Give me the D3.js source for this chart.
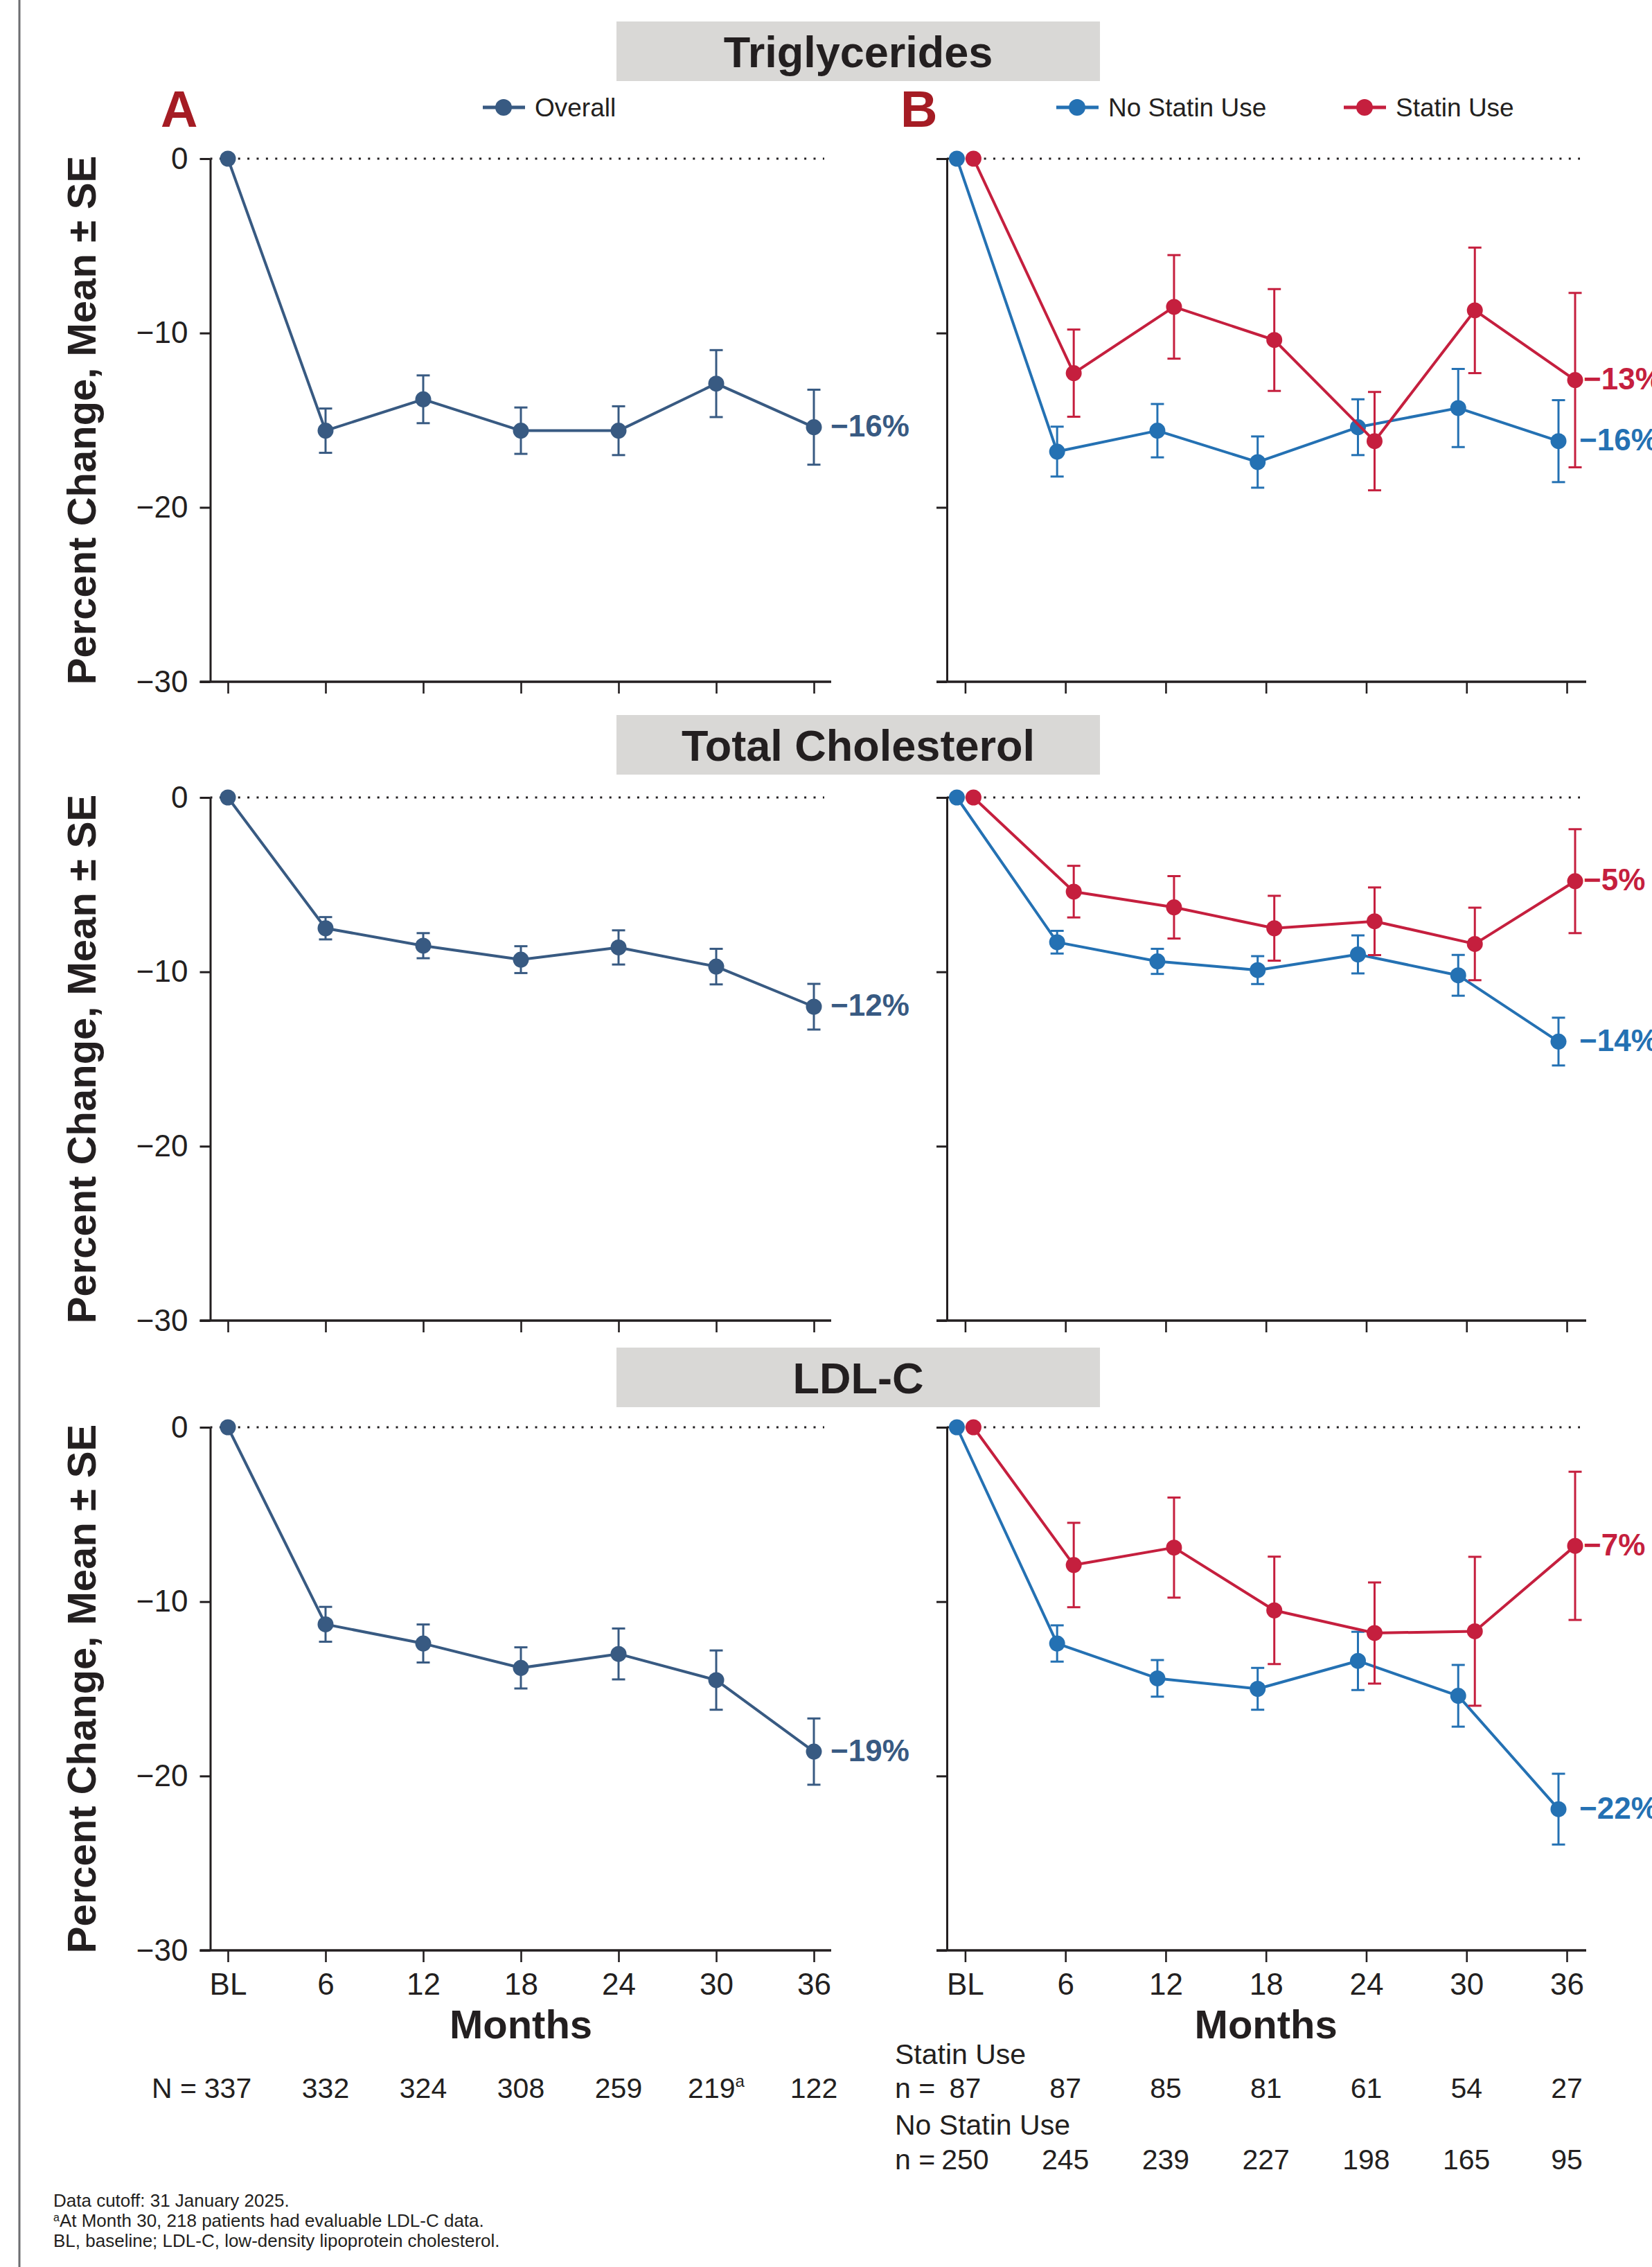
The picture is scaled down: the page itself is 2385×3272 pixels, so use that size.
<!DOCTYPE html>
<html>
<head>
<meta charset="utf-8">
<script src="https://cdn.jsdelivr.net/npm/d3@7"></script>
<style>
  body { margin: 0; background: #fff; }
  svg { display: block; font-family: "Liberation Sans", Arial, Helvetica, sans-serif; }
</style>
</head>
<body>
<div id="chart"></div>
<script>
// months on the x axis
const months = [0, 6, 12, 18, 24, 30, 36];
const monthLabels = ["BL", "6", "12", "18", "24", "30", "36"];
const yTicks = [0, -10, -20, -30];

const panelTitles = ["Triglycerides", "Total Cholesterol", "LDL-C"];

// Triglycerides
const tgOverallMean = [0, -15.6, -13.8, -15.6, -15.6, -12.9, -15.4];
const tgOverallSE = [0, 1.27, 1.37, 1.33, 1.40, 1.92, 2.15];
const tgNoStatinMean = [0, -16.8, -15.6, -17.4, -15.4, -14.3, -16.2];
const tgNoStatinSE = [0, 1.43, 1.53, 1.47, 1.60, 2.24, 2.35];
const tgStatinMean = [0, -12.3, -8.5, -10.4, -16.2, -8.7, -12.7];
const tgStatinSE = [0, 2.50, 2.97, 2.92, 2.82, 3.60, 5.00];

// Total cholesterol
const tcOverallMean = [0, -7.5, -8.5, -9.3, -8.6, -9.7, -12.0];
const tcOverallSE = [0, 0.64, 0.72, 0.77, 0.98, 1.02, 1.31];
const tcNoStatinMean = [0, -8.3, -9.4, -9.9, -9.0, -10.2, -14.0];
const tcNoStatinSE = [0, 0.65, 0.72, 0.80, 1.09, 1.17, 1.37];
const tcStatinMean = [0, -5.4, -6.3, -7.5, -7.1, -8.4, -4.8];
const tcStatinSE = [0, 1.48, 1.79, 1.86, 1.94, 2.08, 2.98];

// LDL-C
const ldlOverallMean = [0, -11.3, -12.4, -13.8, -13.0, -14.5, -18.6];
const ldlOverallSE = [0, 1.00, 1.09, 1.18, 1.46, 1.70, 1.90];
const ldlNoStatinMean = [0, -12.4, -14.4, -15.0, -13.4, -15.4, -21.9];
const ldlNoStatinSE = [0, 1.04, 1.05, 1.20, 1.67, 1.77, 2.03];
const ldlStatinMean = [0, -7.9, -6.9, -10.5, -11.8, -11.7, -6.8];
const ldlStatinSE = [0, 2.42, 2.87, 3.08, 2.90, 4.27, 4.25];

// end-of-line labels
const overallEnd = ["\u221216%", "\u221212%", "\u221219%"];
const noStatinEnd = ["\u221216%", "\u221214%", "\u221222%"];
const statinEnd = ["\u221213%", "\u22125%", "\u22127%"];

// patients at each visit
const nOverall = ["337", "332", "324", "308", "259", "219", "122"];
const nStatin = ["87", "87", "85", "81", "61", "54", "27"];
const nNoStatin = ["250", "245", "239", "227", "198", "165", "95"];

const footnotes = [
  ["", "Data cutoff: 31 January 2025."],
  ["a", "At Month 30, 218 patients had evaluable LDL-C data."],
  ["", "BL, baseline; LDL-C, low-density lipoprotein cholesterol."]
];

const C_OVERALL = "#385a82", C_NOSTATIN = "#2471b3", C_STATIN = "#c51f3e";
const INK = "#231f20";

const rows = [
  { overall: [tgOverallMean, tgOverallSE], nost: [tgNoStatinMean, tgNoStatinSE], st: [tgStatinMean, tgStatinSE] },
  { overall: [tcOverallMean, tcOverallSE], nost: [tcNoStatinMean, tcNoStatinSE], st: [tcStatinMean, tcStatinSE] },
  { overall: [ldlOverallMean, ldlOverallSE], nost: [ldlNoStatinMean, ldlNoStatinSE], st: [ldlStatinMean, ldlStatinSE] }
];

const W = 2385, H = 3272;
const rowTop = [229, 1151, 2060];     // pixel of y = 0 in each row
const rowH = 755;                     // 0 .. -30
const boxTop = [31, 1032, 1945];

const panels = {
  A: { x0: 329, x1: 1175, axisX: 303.5, axisEnd: 1200, dotEnd: 1190 },
  B: { x0: 1393.4, x1: 2262, axisX: 1367, axisEnd: 2290, dotEnd: 2281 }
};

const svg = d3.select("#chart").append("svg")
  .attr("width", W).attr("height", H);

svg.append("rect").attr("width", W).attr("height", H).attr("fill", "#fff");

// left page rule
svg.append("line").attr("x1", 28).attr("x2", 28).attr("y1", 0).attr("y2", H)
  .attr("stroke", "#6d6e71").attr("stroke-width", 3);

function drawSeries(g, x, y, mean, se, color, dx) {
  const pts = months.map((m, i) => ({ m, v: mean[i], s: se[i] }));
  g.append("path")
    .datum(pts)
    .attr("fill", "none")
    .attr("stroke", color)
    .attr("stroke-width", 4)
    .attr("stroke-linejoin", "round")
    .attr("d", d3.line().x(d => x(d.m) + dx).y(d => y(d.v)));

  const eb = g.selectAll(null).data(pts.filter(d => d.s > 0)).enter().append("g")
    .attr("stroke", color).attr("stroke-width", 3);
  eb.append("line")
    .attr("x1", d => x(d.m) + dx).attr("x2", d => x(d.m) + dx)
    .attr("y1", d => y(d.v + d.s)).attr("y2", d => y(d.v - d.s));
  eb.append("line")
    .attr("x1", d => x(d.m) + dx - 9.5).attr("x2", d => x(d.m) + dx + 9.5)
    .attr("y1", d => y(d.v + d.s)).attr("y2", d => y(d.v + d.s));
  eb.append("line")
    .attr("x1", d => x(d.m) + dx - 9.5).attr("x2", d => x(d.m) + dx + 9.5)
    .attr("y1", d => y(d.v - d.s)).attr("y2", d => y(d.v - d.s));

  g.selectAll(null).data(pts).enter().append("circle")
    .attr("cx", d => x(d.m) + dx).attr("cy", d => y(d.v))
    .attr("r", 11.5).attr("fill", color);
  return pts;
}

function endLabel(g, xPos, yPos, text, color) {
  g.append("text")
    .attr("x", xPos).attr("y", yPos).attr("dy", "0.35em")
    .attr("fill", color).attr("font-size", 44).attr("font-weight", "bold")
    .text(text);
}

function drawPanel(key, r) {
  const p = panels[key];
  const top = rowTop[r], bottom = top + rowH;
  const x = d3.scaleLinear().domain([0, 36]).range([p.x0, p.x1]);
  const y = d3.scaleLinear().domain([0, -30]).range([top, bottom]);
  const g = svg.append("g");

  // zero reference line
  g.append("line")
    .attr("x1", p.axisX).attr("x2", p.dotEnd)
    .attr("y1", y(0)).attr("y2", y(0))
    .attr("stroke", INK).attr("stroke-width", 3.2)
    .attr("stroke-dasharray", "3 10.4");

  // y axis
  const ya = d3.axisLeft(y).tickValues(yTicks).tickSize(15).tickSizeOuter(0).tickPadding(17)
    .tickFormat(d => key === "A" ? (d < 0 ? "\u2212" + Math.abs(d) : d) : "");
  const yg = g.append("g").attr("transform", `translate(${p.axisX},0)`).call(ya);
  yg.select(".domain").attr("stroke", INK).attr("stroke-width", 3);
  yg.selectAll(".tick line").attr("stroke", INK).attr("stroke-width", 3);
  yg.selectAll(".tick text").attr("font-size", 44).attr("fill", INK)
    .attr("font-family", "Liberation Sans, Arial, sans-serif");

  // x axis
  const xa = d3.axisBottom(x).tickValues(months).tickSize(17).tickSizeOuter(0).tickPadding(16)
    .tickFormat((d, i) => r === 2 ? monthLabels[i] : "");
  const xg = g.append("g").attr("transform", `translate(0,${bottom})`).call(xa);
  xg.select(".domain").remove();
  xg.selectAll(".tick line").attr("stroke", INK).attr("stroke-width", 2.6);
  xg.selectAll(".tick text").attr("font-size", 44).attr("fill", INK)
    .attr("font-family", "Liberation Sans, Arial, sans-serif");
  g.append("line")
    .attr("x1", p.axisX - 15).attr("x2", p.axisEnd)
    .attr("y1", bottom).attr("y2", bottom)
    .attr("stroke", INK).attr("stroke-width", 3.5);

  const row = rows[r];
  if (key === "A") {
    const pts = drawSeries(g, x, y, row.overall[0], row.overall[1], C_OVERALL, 0);
    const last = pts[pts.length - 1];
    endLabel(g, x(last.m) + 24, y(last.v) - 2, overallEnd[r], C_OVERALL);

    // y axis title
    svg.append("text")
      .attr("transform", `translate(138,${(top + bottom) / 2}) rotate(-90)`)
      .attr("text-anchor", "middle")
      .attr("font-size", 58).attr("font-weight", "bold").attr("fill", INK)
      .text("Percent Change, Mean \u00b1 SE");
  } else {
    const bp = drawSeries(g, x, y, row.nost[0], row.nost[1], C_NOSTATIN, -12);
    const rp = drawSeries(g, x, y, row.st[0], row.st[1], C_STATIN, 12);
    const bl = bp[bp.length - 1], rl = rp[rp.length - 1];
    endLabel(g, x(bl.m) + 18, y(bl.v) - 2, noStatinEnd[r], C_NOSTATIN);
    endLabel(g, x(rl.m) + 24, y(rl.v) - 2, statinEnd[r], C_STATIN);
  }
  return x;
}

// section headers
panelTitles.forEach((t, i) => {
  svg.append("rect").attr("x", 890).attr("y", boxTop[i]).attr("width", 698).attr("height", 86)
    .attr("fill", "#d9d8d6");
  svg.append("text").attr("x", 1239).attr("y", boxTop[i] + 43).attr("dy", "0.36em")
    .attr("text-anchor", "middle").attr("font-size", 63).attr("font-weight", "bold").attr("fill", INK)
    .text(t);
});

let xA, xB;
for (let r = 0; r < 3; r++) {
  xA = drawPanel("A", r);
  xB = drawPanel("B", r);
}

// panel letters
svg.append("text").attr("x", 232).attr("y", 183).attr("font-size", 74).attr("font-weight", "bold")
  .attr("fill", "#a51c24").text("A");
svg.append("text").attr("x", 1300).attr("y", 183).attr("font-size", 74).attr("font-weight", "bold")
  .attr("fill", "#a51c24").text("B");

// legends
const legendItems = [
  { cx: 727, label: "Overall", color: C_OVERALL },
  { cx: 1555, label: "No Statin Use", color: C_NOSTATIN },
  { cx: 1970, label: "Statin Use", color: C_STATIN }
];
legendItems.forEach(d => {
  const lg = svg.append("g").attr("transform", `translate(${d.cx},155)`);
  lg.append("line").attr("x1", -30).attr("x2", 31).attr("stroke", d.color).attr("stroke-width", 5);
  lg.append("circle").attr("r", 12).attr("fill", d.color);
  lg.append("text").attr("x", 45).attr("dy", "0.36em").attr("font-size", 37).attr("fill", INK).text(d.label);
});

// x axis titles
const monthsY = 2942;
[xA, xB].forEach(x => {
  svg.append("text").attr("x", (x(0) + x(36)) / 2).attr("y", monthsY)
    .attr("text-anchor", "middle").attr("font-size", 58).attr("font-weight", "bold").attr("fill", INK)
    .text("Months");
});

// numbers at risk, panel A
const nY = 3028;
svg.append("text").attr("x", 284).attr("y", nY).attr("text-anchor", "end")
  .attr("font-size", 41).attr("fill", INK).text("N =");
nOverall.forEach((v, i) => {
  const t = svg.append("text").attr("x", xA(months[i])).attr("y", nY)
    .attr("text-anchor", "middle").attr("font-size", 41).attr("fill", INK).text(v);
  if (i === 5) t.append("tspan").attr("font-size", 24).attr("baseline-shift", "65%").text("a");
});

// numbers at risk, panel B
const groupsB = [
  { title: "Statin Use", counts: nStatin, titleY: 2979, y: 3028 },
  { title: "No Statin Use", counts: nNoStatin, titleY: 3081, y: 3131 }
];
groupsB.forEach(gr => {
  svg.append("text").attr("x", 1292).attr("y", gr.titleY).attr("font-size", 41).attr("fill", INK).text(gr.title);
  svg.append("text").attr("x", 1292).attr("y", gr.y).attr("font-size", 41).attr("fill", INK).text("n =");
  gr.counts.forEach((v, i) => {
    svg.append("text").attr("x", xB(months[i])).attr("y", gr.y)
      .attr("text-anchor", "middle").attr("font-size", 41).attr("fill", INK).text(v);
  });
});

// footnotes
footnotes.forEach((f, i) => {
  const t = svg.append("text").attr("x", 77).attr("y", 3185 + i * 28.8)
    .attr("font-size", 26).attr("fill", INK);
  if (f[0]) t.append("tspan").attr("font-size", 16).attr("baseline-shift", "super").text(f[0]);
  t.append("tspan").text(f[1]);
});
</script>
</body>
</html>
